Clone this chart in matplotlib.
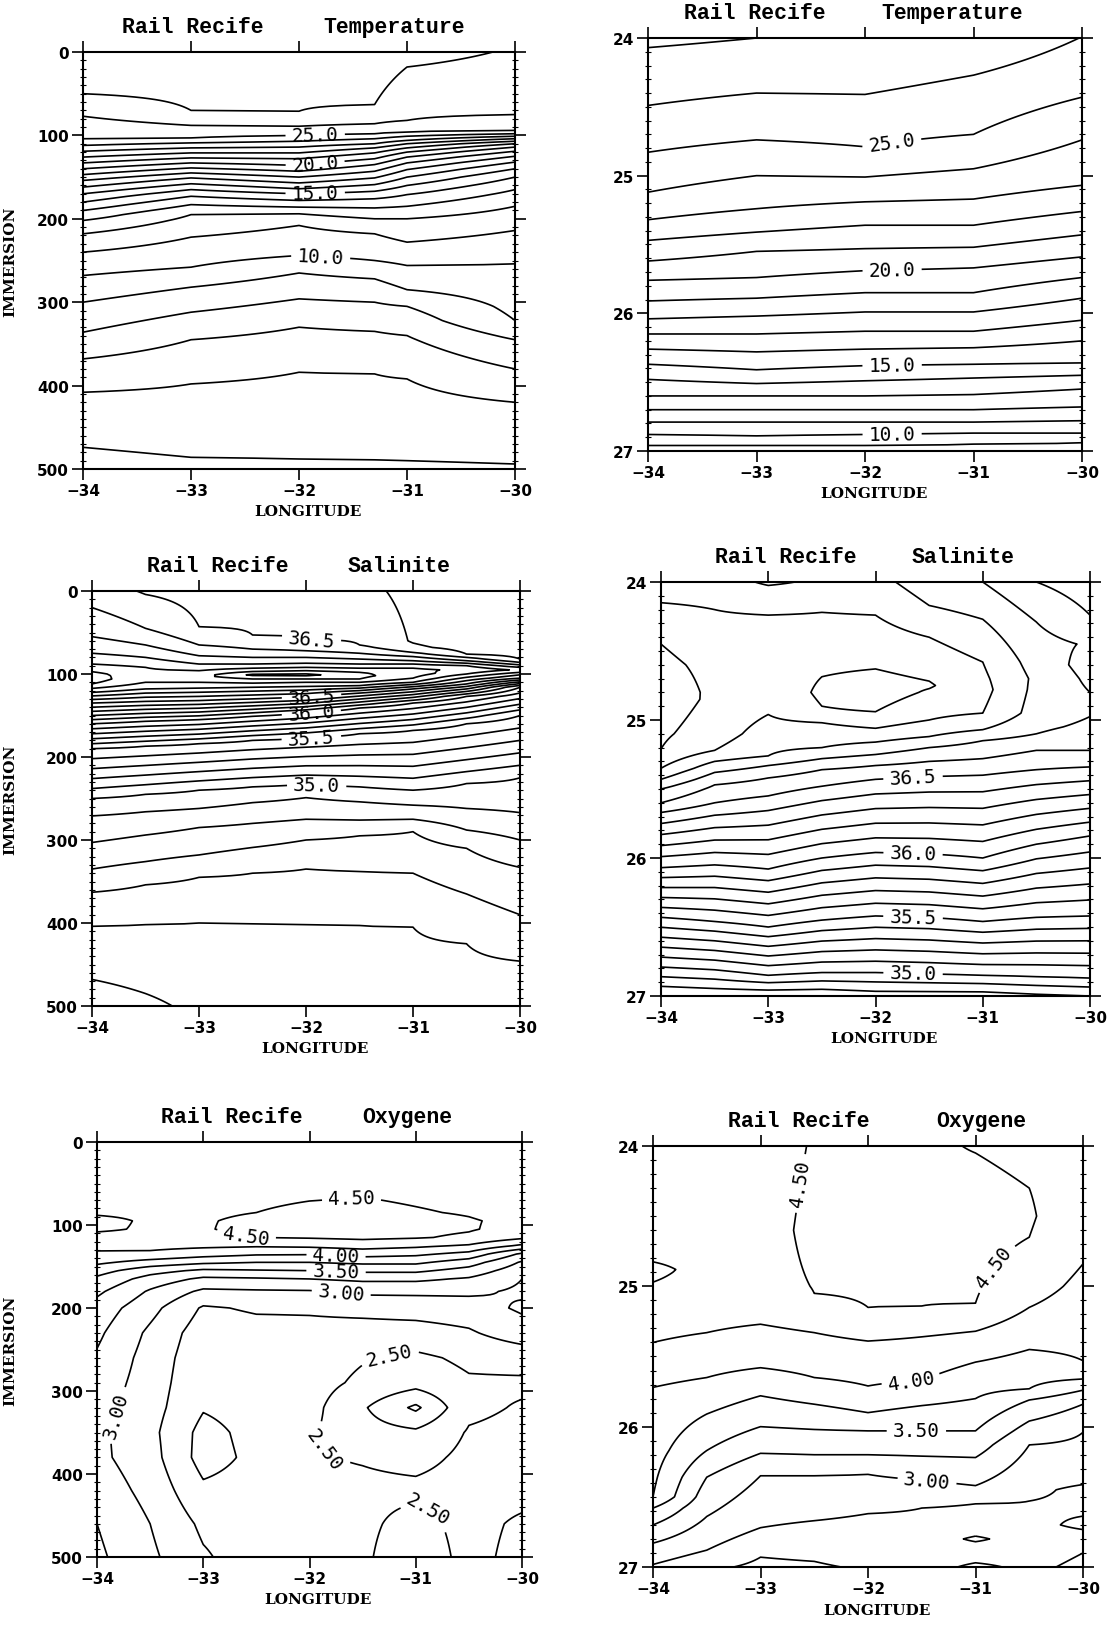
import numpy as np
import matplotlib
matplotlib.use('Agg')
import matplotlib.pyplot as plt
from matplotlib.ticker import MultipleLocator

# ---------------- data read off the sections ----------------
# temperature: depth (m) / sigma of each isotherm at each station longitude
temp_levels = [28, 27, 26, 25, 24, 23, 22, 21, 20, 19, 18, 17, 16, 15, 14, 13, 12, 11, 10, 9, 8, 7, 6, 5, 4]
temp_depth_lons = [-34, -33, -32, -31.3, -31, -30]
temp_depth_lines = [
    [-40, -30, -30, -30, -30, -40],
    [50, 70, 71, 63, 18, -8],
    [77, 88, 89, 86, 82, 75],
    [104, 103, 100, 98, 96, 94],
    [112, 109, 107, 104, 101, 98],
    [119, 115, 114, 110, 106, 101],
    [126, 121, 121, 115, 110, 104],
    [133, 127, 128, 121, 115, 107],
    [140, 133, 136, 128, 120, 110],
    [147, 139, 143, 135, 126, 114],
    [154, 145, 150, 143, 133, 119],
    [162, 151, 157, 151, 141, 125],
    [170, 158, 164, 159, 150, 132],
    [180, 165, 170, 167, 160, 140],
    [190, 173, 178, 176, 171, 150],
    [202, 183, 186, 187, 185, 165],
    [218, 195, 194, 200, 200, 185],
    [240, 222, 208, 218, 228, 214],
    [268, 258, 244, 250, 256, 254],
    [300, 282, 265, 272, 285, 322],
    [336, 312, 296, 300, 305, 345],
    [368, 345, 330, 335, 340, 380],
    [408, 398, 384, 386, 392, 420],
    [474, 486, 488, 489, 490, 494],
    [560, 560, 560, 560, 560, 560],
]
temp_dens_levels = [28, 27, 26, 25, 24, 23, 22, 21, 20, 19, 18, 17, 16, 15, 14, 13, 12, 11, 10, 9, 8]
temp_dens_lons = [-34, -33, -32, -31, -30]
temp_dens_lines = [
    [23.70, 23.75, 23.75, 23.70, 23.60],
    [24.07, 24.00, 23.99, 23.95, 23.85],
    [24.49, 24.40, 24.41, 24.27, 23.99],
    [24.83, 24.74, 24.79, 24.70, 24.43],
    [25.12, 25.00, 25.01, 24.95, 24.74],
    [25.32, 25.24, 25.19, 25.17, 25.07],
    [25.47, 25.41, 25.36, 25.36, 25.26],
    [25.62, 25.55, 25.53, 25.52, 25.43],
    [25.76, 25.74, 25.69, 25.67, 25.59],
    [25.91, 25.89, 25.85, 25.85, 25.74],
    [26.04, 26.02, 25.99, 25.99, 25.89],
    [26.15, 26.15, 26.13, 26.13, 26.05],
    [26.26, 26.28, 26.26, 26.25, 26.20],
    [26.37, 26.41, 26.38, 26.37, 26.36],
    [26.48, 26.51, 26.49, 26.47, 26.45],
    [26.60, 26.60, 26.60, 26.59, 26.55],
    [26.70, 26.70, 26.70, 26.70, 26.68],
    [26.79, 26.79, 26.79, 26.79, 26.78],
    [26.88, 26.89, 26.88, 26.87, 26.87],
    [26.96, 26.96, 26.96, 26.95, 26.94],
    [27.20, 27.20, 27.20, 27.20, 27.20],
]

# salinity / oxygen station profiles, half degree apart
station_lons = [-34, -33.5, -33, -32.5, -32, -31.5, -31, -30.5, -30]

sal_depth_profiles = [
    [(0, 36.55), (20, 36.6), (55, 36.7), (75, 36.8), (88, 36.9), (100, 37.03), (106, 37.05), (112, 37.0), (120, 36.85), (135, 36.5), (160, 36.0), (190, 35.5), (250, 35.0), (271, 34.9), (303, 34.8), (335, 34.7), (363, 34.6), (404, 34.5), (468, 34.4), (500, 34.35)],
    [(0, 36.49), (25, 36.55), (45, 36.6), (65, 36.7), (80, 36.8), (92, 36.9), (102, 36.93), (110, 36.9), (118, 36.8), (133, 36.5), (157, 36.0), (187, 35.5), (245, 35.0), (266, 34.9), (294, 34.8), (326, 34.7), (354, 34.6), (402, 34.5), (485, 34.4), (500, 34.38)],
    [(0, 36.47), (43, 36.5), (65, 36.6), (78, 36.7), (88, 36.8), (96, 36.9), (103, 36.97), (110, 36.9), (117, 36.8), (132, 36.5), (155, 36.0), (184, 35.5), (240, 35.0), (262, 34.9), (285, 34.8), (318, 34.7), (345, 34.6), (400, 34.5), (500, 34.42)],
    [(0, 36.46), (53, 36.5), (70, 36.6), (80, 36.7), (88, 36.8), (93, 36.9), (97, 37.0), (101, 37.12), (106, 37.0), (111, 36.9), (116, 36.8), (130, 36.5), (151, 36.0), (180, 35.5), (236, 35.0), (255, 34.9), (280, 34.8), (309, 34.7), (340, 34.6), (401, 34.5), (500, 34.44)],
    [(0, 36.45), (58, 36.5), (72, 36.6), (80, 36.7), (87, 36.8), (92, 36.9), (96, 37.0), (101, 37.13), (106, 37.0), (110, 36.9), (115, 36.8), (128, 36.5), (147, 36.0), (177, 35.5), (233, 35.0), (249, 34.9), (275, 34.8), (300, 34.7), (335, 34.6), (402, 34.5), (500, 34.45)],
    [(0, 36.43), (65, 36.5), (75, 36.6), (82, 36.7), (88, 36.8), (93, 36.9), (98, 37.0), (102, 37.03), (106, 37.0), (110, 36.9), (114, 36.8), (123, 36.5), (141, 36.0), (172, 35.5), (236, 35.0), (254, 34.9), (276, 34.8), (295, 34.7), (338, 34.6), (403, 34.5), (500, 34.45)],
    [(0, 36.37), (60, 36.39), (68, 36.42), (74, 36.5), (79, 36.6), (84, 36.7), (88, 36.8), (93, 36.9), (99, 36.96), (105, 36.9), (110, 36.8), (118, 36.5), (135, 36.0), (168, 35.5), (240, 35.0), (258, 34.9), (275, 34.8), (290, 34.7), (340, 34.6), (405, 34.5), (500, 34.46)],
    [(0, 36.31), (60, 36.33), (76, 36.4), (80, 36.5), (84, 36.6), (87, 36.7), (90, 36.8), (95, 36.88), (100, 36.8), (104, 36.7), (108, 36.6), (112, 36.5), (127, 36.0), (160, 35.5), (232, 35.0), (262, 34.9), (288, 34.8), (310, 34.7), (365, 34.6), (425, 34.5), (500, 34.46)],
    [(0, 36.31), (70, 36.33), (82, 36.4), (86, 36.5), (89, 36.6), (92, 36.7), (95, 36.78), (98, 36.7), (101, 36.6), (105, 36.5), (116, 36.0), (150, 35.5), (225, 35.0), (267, 34.9), (300, 34.8), (333, 34.7), (390, 34.6), (446, 34.5), (500, 34.47)],
]

sal_dens_profiles = [
    [(24.0, 36.85), (24.15, 36.9), (24.45, 37.0), (24.8, 37.06), (25.21, 37.0), (25.35, 36.9), (25.43, 36.8), (25.5, 36.7), (25.6, 36.6), (25.67, 36.5), (26.07, 36.0), (26.43, 35.5), (26.79, 35.0), (27.0, 34.7)],
    [(24.0, 36.86), (24.2, 36.9), (24.6, 36.97), (24.85, 36.98), (25.1, 36.95), (25.22, 36.9), (25.3, 36.8), (25.38, 36.7), (25.47, 36.6), (25.6, 36.5), (26.05, 36.0), (26.46, 35.5), (26.81, 35.0), (27.0, 34.72)],
    [(24.0, 36.78), (24.05, 36.82), (24.24, 36.9), (24.6, 36.95), (24.96, 36.9), (25.26, 36.8), (25.33, 36.7), (25.42, 36.6), (25.55, 36.5), (26.08, 36.0), (26.5, 35.5), (26.85, 35.0), (27.0, 34.72)],
    [(24.0, 36.82), (24.22, 36.9), (24.63, 36.99), (24.8, 37.02), (24.95, 36.99), (25.02, 36.9), (25.2, 36.8), (25.28, 36.7), (25.36, 36.6), (25.48, 36.5), (26.0, 36.0), (26.45, 35.5), (26.83, 35.0), (27.0, 34.72)],
    [(24.0, 36.83), (24.24, 36.9), (24.63, 37.0), (24.8, 37.05), (24.94, 37.0), (25.06, 36.9), (25.16, 36.8), (25.25, 36.7), (25.33, 36.6), (25.43, 36.5), (25.96, 36.0), (26.42, 35.5), (26.83, 35.0), (27.0, 34.75)],
    [(24.0, 36.75), (24.17, 36.8), (24.4, 36.9), (24.75, 37.01), (25.0, 36.9), (25.12, 36.8), (25.2, 36.7), (25.3, 36.6), (25.41, 36.5), (25.97, 36.0), (26.43, 35.5), (26.84, 35.0), (27.0, 34.75)],
    [(24.0, 36.7), (24.27, 36.8), (24.58, 36.9), (24.78, 36.93), (24.95, 36.9), (25.07, 36.8), (25.15, 36.7), (25.28, 36.6), (25.4, 36.5), (26.0, 36.0), (26.46, 35.5), (26.85, 35.0), (27.0, 34.75)],
    [(24.0, 36.6), (24.29, 36.7), (24.7, 36.78), (24.95, 36.76), (25.1, 36.7), (25.22, 36.6), (25.36, 36.5), (25.9, 36.0), (26.43, 35.5), (26.86, 35.0), (27.0, 34.78)],
    [(24.0, 36.55), (24.24, 36.6), (24.45, 36.69), (24.6, 36.66), (24.9, 36.72), (25.05, 36.68), (25.22, 36.6), (25.34, 36.5), (25.84, 36.0), (26.42, 35.5), (26.87, 35.0), (27.0, 34.8)],
]

oxy_depth_rows = [0, 60, 85, 95, 105, 115, 125, 135, 145, 155, 165, 180, 200, 230, 260, 290, 320, 350, 380, 420, 460, 500]
oxy_depth_values = [
    [4.40, 4.42, 4.46, 4.58, 4.55, 4.40, 4.30, 4.22, 4.05, 3.85, 3.70, 3.55, 3.40, 3.30, 3.22, 3.15, 3.10, 3.06, 3.06, 3.15, 3.25, 3.30],
    [4.40, 4.42, 4.44, 4.46, 4.46, 4.40, 4.32, 4.20, 3.90, 3.60, 3.40, 3.22, 3.08, 2.95, 2.90, 2.88, 2.85, 2.82, 2.85, 2.92, 3.00, 3.05],
    [4.40, 4.43, 4.46, 4.48, 4.48, 4.42, 4.30, 4.10, 3.80, 3.45, 3.20, 2.95, 2.72, 2.62, 2.58, 2.55, 2.52, 2.42, 2.40, 2.55, 2.70, 2.78],
    [4.40, 4.44, 4.50, 4.55, 4.57, 4.50, 4.28, 4.03, 3.75, 3.48, 3.22, 2.97, 2.78, 2.66, 2.62, 2.62, 2.60, 2.58, 2.56, 2.60, 2.62, 2.62],
    [4.40, 4.46, 4.55, 4.60, 4.60, 4.52, 4.30, 4.02, 3.75, 3.50, 3.25, 2.98, 2.78, 2.68, 2.62, 2.60, 2.58, 2.53, 2.52, 2.56, 2.58, 2.58],
    [4.40, 4.48, 4.56, 4.62, 4.60, 4.55, 4.35, 4.10, 3.80, 3.55, 3.30, 3.05, 2.82, 2.65, 2.52, 2.45, 2.28, 2.35, 2.48, 2.56, 2.56, 2.55],
    [4.38, 4.45, 4.52, 4.58, 4.56, 4.52, 4.30, 4.05, 3.80, 3.55, 3.30, 3.05, 2.85, 2.65, 2.45, 2.35, 1.95, 2.30, 2.42, 2.56, 2.40, 2.30],
    [4.36, 4.42, 4.48, 4.52, 4.52, 4.46, 4.22, 3.92, 3.62, 3.40, 3.22, 3.05, 2.88, 2.72, 2.55, 2.47, 2.45, 2.52, 2.56, 2.60, 2.60, 2.60],
    [4.35, 4.38, 4.40, 4.44, 4.42, 4.30, 3.95, 3.45, 3.22, 3.10, 3.00, 2.96, 3.04, 2.88, 2.60, 2.46, 2.52, 2.56, 2.60, 2.60, 2.45, 2.40],
]

oxy_dens_profiles = [
    [(24.0, 4.35), (24.78, 4.45), (24.88, 4.56), (25.0, 4.48), (25.4, 4.25), (25.72, 4.0), (26.5, 3.75), (26.58, 3.5), (26.7, 3.25), (26.83, 3.0), (27.0, 2.72)],
    [(24.0, 4.35), (24.9, 4.42), (25.05, 4.4), (25.33, 4.25), (25.65, 4.0), (25.91, 3.75), (26.17, 3.5), (26.36, 3.25), (26.64, 3.0), (26.88, 2.75), (27.0, 2.55)],
    [(24.0, 4.38), (25.0, 4.42), (25.27, 4.25), (25.58, 4.0), (25.78, 3.75), (26.0, 3.5), (26.19, 3.25), (26.35, 3.0), (26.72, 2.75), (26.93, 2.5), (27.0, 2.45)],
    [(24.0, 4.52), (24.6, 4.56), (25.05, 4.5), (25.33, 4.25), (25.65, 4.0), (25.84, 3.75), (26.02, 3.5), (26.2, 3.25), (26.35, 3.0), (26.67, 2.75), (26.96, 2.5), (27.0, 2.48)],
    [(24.0, 4.6), (24.6, 4.65), (25.15, 4.5), (25.39, 4.25), (25.71, 4.0), (25.9, 3.75), (26.03, 3.5), (26.2, 3.25), (26.34, 3.0), (26.62, 2.75), (27.0, 2.52)],
    [(24.0, 4.62), (24.6, 4.65), (25.14, 4.5), (25.36, 4.25), (25.67, 4.0), (25.85, 3.75), (26.03, 3.5), (26.21, 3.25), (26.38, 3.0), (26.58, 2.75), (27.0, 2.6)],
    [(24.0, 4.46), (24.05, 4.5), (24.6, 4.6), (25.12, 4.5), (25.32, 4.25), (25.54, 4.0), (25.8, 3.75), (26.03, 3.5), (26.22, 3.25), (26.42, 3.0), (26.55, 2.75), (26.74, 2.6), (26.8, 2.45), (26.86, 2.6), (26.97, 2.5), (27.0, 2.45)],
    [(24.0, 4.45), (24.3, 4.5), (24.5, 4.53), (24.65, 4.5), (25.0, 4.35), (25.15, 4.25), (25.45, 4.0), (25.73, 3.75), (25.81, 3.5), (25.96, 3.25), (26.13, 3.0), (26.53, 2.75), (26.9, 2.6), (27.0, 2.55)],
    [(24.0, 4.4), (24.84, 4.25), (25.53, 4.0), (25.66, 3.75), (25.74, 3.5), (25.84, 3.25), (26.04, 3.0), (26.3, 2.9), (26.45, 2.7), (26.6, 2.72), (26.7, 2.8), (26.9, 2.5), (27.0, 2.45)],
]

sal_levels = [round(34.3 + 0.1 * k, 1) for k in range(29)]
oxy_levels = [2.0, 2.25, 2.5, 2.75, 3.0, 3.25, 3.5, 3.75, 4.0, 4.25, 4.5]

# ---------------- helpers ----------------
def table_field(grid, levels, table):
    table = np.asarray(table, float)
    return np.column_stack([np.interp(grid, table[:, j], levels) for j in range(table.shape[1])])


def profile_field(grid, profiles):
    cols = []
    for prof in profiles:
        ys, vals = zip(*prof)
        cols.append(np.interp(grid, ys, vals))
    return np.column_stack(cols)


W, H = 1111, 1631
fig = plt.figure(figsize=(W / 100, H / 100), dpi=100)
fig.patch.set_facecolor('white')


def panel(l, t, r, b):
    ax = fig.add_axes([l / W, 1 - b / H, (r - l) / W, (b - t) / H])
    ax.label_x = (17 - l) / (r - l)  # where the y label sits, in axes units
    return ax


def style(ax, depth_axis, names):
    ax.set_xlim(-34, -30)
    ax.set_xticks([-34, -33, -32, -31, -30])
    if depth_axis:
        ax.set_ylim(500, 0)
        ax.set_yticks([0, 100, 200, 300, 400, 500])
        ax.yaxis.set_minor_locator(MultipleLocator(10))
        ax.set_ylabel('IMMERSION', fontsize=11, fontweight='bold', family='DejaVu Serif')
        ax.yaxis.set_label_coords(ax.label_x, 0.5)
    else:
        ax.set_ylim(27, 24)
        ax.set_yticks([24, 25, 26, 27])
        ax.yaxis.set_minor_locator(MultipleLocator(0.1))
    ax.tick_params(axis='x', which='major', direction='out', length=8, width=1.2,
                   top=True, bottom=True, labelsize=11, pad=2)
    ax.tick_params(axis='y', which='major', direction='out', length=8, width=1.2,
                   left=True, right=True, labelsize=11, pad=2)
    ax.tick_params(axis='y', which='minor', direction='inout', length=5, width=0.8,
                   left=True, right=True)
    for lab in ax.get_xticklabels() + ax.get_yticklabels():
        lab.set_fontweight('bold')
    for sp in ax.spines.values():
        sp.set_linewidth(1.5)
    ax.set_xlabel('LONGITUDE', fontsize=11, fontweight='bold', family='DejaVu Serif')
    ax.xaxis.set_label_coords(0.52, -0.085)
    for (txt, x) in names:
        ax.annotate(txt, xy=(x, 1), xycoords=('data', 'axes fraction'), xytext=(0, 11),
                    textcoords='offset points', ha='center', va='bottom',
                    family='Liberation Mono', fontweight='bold', fontsize=15.5)


def draw(ax, lons, grid, field, levels, lab_levels, lab_pos, fmt):
    # unlabelled isolines, then the labelled ones on their own so clabel can cut them
    plain = [lv for lv in levels if lv not in lab_levels]
    ax.contour(lons, grid, field, levels=plain, colors='k', linewidths=1.2)
    cs = ax.contour(lons, grid, field, levels=lab_levels, colors='k', linewidths=1.2)
    ax.set_xlim(-34, -30)
    texts = ax.clabel(cs, manual=lab_pos, fmt=fmt, inline=True,
                      inline_spacing=8, fontsize=14)
    for t in texts:
        t.set_family('DejaVu Sans Mono')


depth = np.linspace(0, 500, 501)
sigma = np.linspace(24, 27, 601)

# temperature, depth
ax = panel(83, 53, 515, 470)
style(ax, True, [('Rail Recife', -32.98), ('Temperature', -31.12)])
draw(ax, temp_depth_lons, depth, table_field(depth, temp_levels, temp_depth_lines),
     list(range(5, 28)), [10, 15, 20, 25],
     [(-31.85, 100), (-31.85, 135), (-31.85, 170), (-31.8, 247)], '%.1f')

# temperature, density
ax = panel(648, 39, 1082, 452)
style(ax, False, [('Rail Recife', -33.02), ('Temperature', -31.2)])
draw(ax, temp_dens_lons, sigma, table_field(sigma, temp_dens_levels, temp_dens_lines),
     list(range(9, 28)), [10, 15, 20, 25],
     [(-31.75, 24.78), (-31.75, 25.69), (-31.75, 26.38), (-31.75, 26.88)], '%.1f')

# salinity, depth
ax = panel(92, 592, 520, 1007)
style(ax, True, [('Rail Recife', -32.82), ('Salinite', -31.13)])
draw(ax, station_lons, depth, profile_field(depth, sal_depth_profiles),
     sal_levels, [35.0, 35.5, 36.0, 36.5],
     [(-31.95, 60), (-31.95, 125), (-31.95, 147), (-31.95, 177), (-31.9, 233)], '%.1f')

# salinity, density
ax = panel(661, 583, 1090, 997)
style(ax, False, [('Rail Recife', -32.84), ('Salinite', -31.18)])
draw(ax, station_lons, sigma, profile_field(sigma, sal_dens_profiles),
     sal_levels, [35.0, 35.5, 36.0, 36.5],
     [(-31.65, 25.42), (-31.65, 25.97), (-31.65, 26.43), (-31.65, 26.84)], '%.1f')

# oxygen, depth
oxy_depth_profiles = [list(zip(oxy_depth_rows, col)) for col in oxy_depth_values]
ax = panel(97, 1143, 522, 1558)
style(ax, True, [('Rail Recife', -32.73), ('Oxygene', -31.08)])
draw(ax, station_lons, depth, profile_field(depth, oxy_depth_profiles),
     oxy_levels, [2.5, 3.0, 3.5, 4.0, 4.5],
     [(-31.6, 73), (-32.6, 117), (-31.75, 136), (-31.75, 155), (-31.7, 180),
      (-31.25, 255), (-31.75, 360), (-30.95, 455), (-33.8, 330)], '%.2f')

# oxygen, density
ax = panel(653, 1147, 1083, 1568)
style(ax, False, [('Rail Recife', -32.64), ('Oxygene', -30.95)])
draw(ax, station_lons, sigma, profile_field(sigma, oxy_dens_profiles),
     oxy_levels, [3.0, 3.5, 4.0, 4.5],
     [(-32.6, 24.27), (-30.85, 24.85), (-31.6, 25.67), (-31.55, 26.03), (-31.45, 26.38)], '%.2f')

fig.savefig('out.png', dpi=100, facecolor='white')
